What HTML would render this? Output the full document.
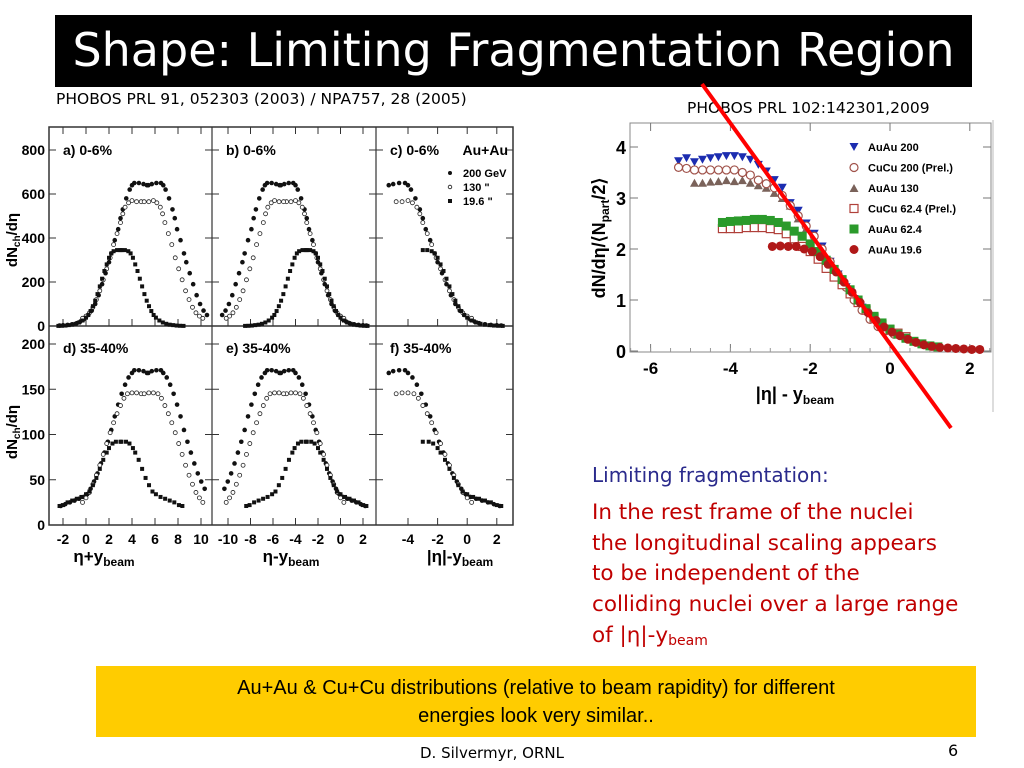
<!DOCTYPE html>
<html><head><meta charset="utf-8"><style>
body{margin:0;width:1024px;height:768px;background:#fff;position:relative;overflow:hidden;font-family:"DejaVu Sans","Liberation Sans",sans-serif}
.abs{position:absolute}
</style></head><body>
<div class="abs" style="left:55px;top:15px;width:917px;height:72px;background:#000;color:#fff;font-size:46px;line-height:70px;text-align:center;white-space:nowrap;">Shape: Limiting Fragmentation Region</div>
<div class="abs" style="left:56px;top:90px;font-size:15.5px;">PHOBOS PRL 91, 052303 (2003) / NPA757, 28 (2005)</div>
<div class="abs" style="left:687px;top:99px;font-size:15.5px;">PHOBOS PRL 102:142301,2009</div>
<svg class="abs" style="left:0;top:0" width="1024" height="768" id="figs"></svg>
<div class="abs" style="left:592px;top:463px;font-size:20px;color:#2a2a8c;">Limiting fragmentation:</div>
<div class="abs" style="left:592px;top:498px;font-size:21.5px;color:#c00000;line-height:30.7px;white-space:nowrap;">In the rest frame of the nuclei<br>the longitudinal scaling appears<br>to be independent of the<br>colliding nuclei over a large range<br>of |η|-y<sub style="font-size:14px;vertical-align:-3px">beam</sub></div>
<div class="abs" style="left:96px;top:666px;width:880px;height:71px;background:#ffcc00;font-family:'Liberation Sans',sans-serif;font-size:20px;text-align:center;line-height:28px;padding-top:8px;box-sizing:border-box;">Au+Au &amp; Cu+Cu distributions (relative to beam rapidity) for different<br>energies look very similar..</div>
<div class="abs" style="left:420px;top:744px;font-size:15px;">D. Silvermyr, ORNL</div>
<div class="abs" style="left:948px;top:741px;font-size:16px;">6</div>
<script>
// ---- Left figure data (vs |eta|-ybeam) ----
const ybeam = [5.36, 4.93, 3.04];
const cenU200 = [-5.3,-5,-4.6,-4.2,-4,-3.8,-3.5,-3.2,-3,-2.8,-2.5,-2.2,-2,-1.7,-1.4,-1.1,-0.8,-0.5,-0.2,0.2,0.5,0.8,1.2,1.6,2,2.3];
const cenV200 = [640,645,650,650,640,620,580,530,490,440,390,330,290,240,190,140,100,70,50,30,20,13,8,5,3,2];
const cenU130 = [-4.8,-4.4,-4,-3.7,-3.4,-3.2,-3,-2.7,-2.4,-2.1,-1.8,-1.5,-1.2,-0.9,-0.6,-0.3,0,0.3];
const cenV130 = [565,565,570,560,540,510,470,420,370,310,260,210,160,120,85,60,45,35];
const cenU19 = [-3,-2.7,-2.4,-2.2,-2,-1.8,-1.6,-1.4,-1.2,-1,-0.8,-0.6,-0.4,-0.2,0,0.3,0.6,0.9,1.2,1.5,1.8,2.1,2.4];
const cenV19 = [345,345,340,330,310,280,250,215,180,145,115,90,68,50,38,25,16,10,6,4,2,1,0.5];
const perU200 = [-5.3,-5,-4.6,-4.2,-4,-3.7,-3.4,-3.1,-2.8,-2.5,-2.2,-1.9,-1.6,-1.3,-1,-0.7,-0.4,-0.1,0.2,0.6,1,1.4,1.8,2.2];
const perV200 = [168,170,171,171,168,163,155,145,133,120,105,92,80,68,57,48,40,34,31,29,27,25,23,21];
const perU130 = [-4.8,-4.4,-4,-3.6,-3.3,-3,-2.7,-2.4,-2.1,-1.8,-1.5,-1.2,-0.9,-0.6,-0.3,0,0.3];
const perV130 = [145,146,146,145,140,132,123,113,102,90,78,66,55,45,36,30,25];
const perU19 = [-3,-2.6,-2.3,-2,-1.8,-1.5,-1.2,-0.9,-0.6,-0.3,0,0.4,0.8,1.2,1.6,2,2.3];
const perV19 = [92,92,90,85,80,72,62,52,44,37,34,31,29,27,25,22,21];
const topTicks = [0,200,400,600,800];
const botTicks = [0,50,100,150,200];
const xTicksA = [-2,0,2,4,6,8,10];
const xTicksB = [-10,-8,-6,-4,-2,0,2];
const xTicksC = [-4,-2,0,2];

// ---- Right figure data ----
const rX_au200=[-5.3,-5.1,-4.9,-4.7,-4.5,-4.3,-4.1,-3.9,-3.7,-3.5,-3.3,-3.1,-2.9,-2.7,-2.5,-2.3,-2.1,-1.9,-1.7,-1.5,-1.3,-1.1,-0.9,-0.7,-0.5,-0.3,-0.1];
const rY_au200=[3.72,3.78,3.7,3.75,3.78,3.8,3.82,3.82,3.8,3.75,3.65,3.52,3.35,3.2,2.9,2.75,2.5,2.3,2.05,1.75,1.5,1.25,1.02,0.85,0.65,0.5,0.42];
const rX_cu200=[-5.3,-5.1,-4.9,-4.7,-4.5,-4.3,-4.1,-3.9,-3.7,-3.5,-3.3,-3.1,-2.9,-2.7,-2.5,-2.3,-2.1,-1.9,-1.7,-1.5,-1.3,-1.1,-0.9,-0.7,-0.5,-0.3,-0.1,0.1];
const rY_cu200=[3.6,3.58,3.55,3.55,3.55,3.55,3.55,3.55,3.5,3.45,3.35,3.28,3.2,3.05,2.85,2.65,2.45,2.25,2.0,1.75,1.5,1.25,1.0,0.8,0.62,0.48,0.4,0.33];
const rX_au130=[-4.9,-4.7,-4.5,-4.3,-4.1,-3.9,-3.7,-3.5,-3.3,-3.1,-2.9,-2.7,-2.5,-2.3,-2.1,-1.9,-1.7];
const rY_au130=[3.3,3.3,3.32,3.33,3.35,3.33,3.35,3.3,3.25,3.2,3.1,3.0,2.85,2.6,2.4,2.2,2.0];
const rX_cu62=[-4.2,-4,-3.8,-3.6,-3.4,-3.2,-3,-2.8,-2.6,-2.4,-2.2,-2,-1.8,-1.6,-1.4,-1.2,-1,-0.8,-0.6,-0.4,-0.2,0,0.2,0.4];
const rY_cu62=[2.4,2.4,2.4,2.42,2.42,2.42,2.4,2.38,2.3,2.2,2.05,1.95,1.8,1.62,1.45,1.3,1.12,0.95,0.8,0.65,0.52,0.42,0.35,0.28];
const rX_au62=[-4.2,-4,-3.8,-3.6,-3.4,-3.2,-3,-2.8,-2.6,-2.4,-2.2,-2,-1.8,-1.6,-1.4,-1.2,-1,-0.8,-0.6,-0.4,-0.2,0,0.2,0.4,0.6,0.8,1,1.2];
const rY_au62=[2.52,2.54,2.55,2.56,2.58,2.58,2.56,2.52,2.45,2.35,2.25,2.1,1.95,1.78,1.6,1.4,1.2,1.0,0.83,0.68,0.55,0.43,0.33,0.25,0.19,0.14,0.1,0.08];
const rX_au19=[-2.95,-2.75,-2.55,-2.35,-2.15,-1.95,-1.75,-1.55,-1.35,-1.15,-0.95,-0.75,-0.55,-0.35,-0.15,0.05,0.25,0.45,0.65,0.85,1.05,1.25,1.45,1.65,1.85,2.05,2.25];
const rY_au19=[2.05,2.06,2.05,2.05,2.0,1.95,1.85,1.7,1.55,1.35,1.15,0.95,0.75,0.6,0.47,0.37,0.3,0.23,0.17,0.12,0.09,0.07,0.06,0.05,0.04,0.03,0.03];
const rTicksX=[-6,-4,-2,0,2];
const rTicksY=[0,1,2,3,4];
const legendNames=["AuAu 200","CuCu 200 (Prel.)","AuAu 130","CuCu 62.4 (Prel.)","AuAu 62.4","AuAu 19.6"];

const svg=document.getElementById('figs');
const NS='http://www.w3.org/2000/svg';
function mk(tag,attrs,parent){const e=document.createElementNS(NS,tag);for(const k in attrs)e.setAttribute(k,attrs[k]);(parent||svg).appendChild(e);return e;}
function txt(x,y,s,size,anchor,parent,weight){const t=mk('text',{x:x,y:y,'font-size':size,'text-anchor':anchor||'middle','font-family':'Liberation Sans, sans-serif','font-weight':weight||'bold'},parent);t.textContent=s;return t;}

// Left figure frame
const L=49,R=513,T=127,M=326,B=525,C1=212,C2=376;
const fr=mk('rect',{x:L,y:T,width:R-L,height:B-T,fill:'none',stroke:'#333','stroke-width':1.5});


mk('line',{x1:L,y1:M,x2:R,y2:M,stroke:'#333','stroke-width':1.5});
mk('line',{x1:C1,y1:T,x2:C1,y2:B,stroke:'#333','stroke-width':1.2});
mk('line',{x1:C2,y1:T,x2:C2,y2:B,stroke:'#333','stroke-width':1.2});
const yTop=v=>M-v*(176/800);
const yBot=v=>B-v*(181/200);
topTicks.forEach(v=>{const y=yTop(v);txt(L-4,y+5,v,14,'end');[L,C1,C2].forEach(x0=>mk('line',{x1:x0,y1:y,x2:x0+7,y2:y,stroke:'#333'}));[C1,C2,R].forEach(x0=>mk('line',{x1:x0-7,y1:y,x2:x0,y2:y,stroke:'#333'}));});
botTicks.forEach(v=>{const y=yBot(v);txt(L-4,y+5,v,14,'end');[L,C1,C2].forEach(x0=>mk('line',{x1:x0,y1:y,x2:x0+7,y2:y,stroke:'#333'}));[C1,C2,R].forEach(x0=>mk('line',{x1:x0-7,y1:y,x2:x0,y2:y,stroke:'#333'}));});
const xa=v=>63+(v+2)*11.5, xb=v=>228+(v+10)*11.25, xc=v=>408+(v+4)*14.8;
[[xTicksA,xa],[xTicksB,xb],[xTicksC,xc]].forEach(([ts,f])=>ts.forEach(v=>{const x=f(v);txt(x,B+19,v,14,'middle');mk('line',{x1:x,y1:B,x2:x,y2:B-7,stroke:'#333'});mk('line',{x1:x,y1:M,x2:x,y2:M-7,stroke:'#333'});mk('line',{x1:x,y1:T,x2:x,y2:T+7,stroke:'#333'});}));
[['a) 0-6%',63,155],['b) 0-6%',226,155],['c) 0-6%',390,155],['d) 35-40%',63,353],['e) 35-40%',226,353],['f) 35-40%',390,353]].forEach(p=>txt(p[1],p[2],p[0],14,'start'));
txt(508,155,'Au+Au',14,'end');
const lg=[['200 GeV',173],['130   "',187],['19.6  "',201]];
lg.forEach(l=>{txt(463,l[1]+4,l[0],11,'start');});
mk('circle',{cx:450,cy:173,r:2,fill:'#111'});mk('circle',{cx:450,cy:187,r:1.8,fill:'none',stroke:'#111','stroke-width':0.8});mk('rect',{x:448,y:199,width:4,height:4,fill:'#111'});
const xl1=txt(104,562,'η+y',17,'middle');const s1=mk('tspan',{'font-size':12,dy:4},xl1);s1.textContent='beam';
const xl2=txt(291,562,'η-y',17,'middle');const s2=mk('tspan',{'font-size':12,dy:4},xl2);s2.textContent='beam';
const xl3=txt(460,562,'|η|-y',17,'middle');const s3=mk('tspan',{'font-size':12,dy:4},xl3);s3.textContent='beam';
[[240],[432]].forEach(([cy])=>{const t=txt(0,0,'dN',15,'middle');t.setAttribute('transform',`translate(17,${cy}) rotate(-90)`);const sb=mk('tspan',{'font-size':10,dy:3},t);sb.textContent='ch';const r=mk('tspan',{dy:-3},t);r.textContent='/dη';});

function marker(x,y,type){
  if(type===0){const c=mk('circle',{cx:x,cy:y,r:2.3,fill:'#111'});}
  else if(type===1){const c=mk('circle',{cx:x,cy:y,r:2,fill:'#fff',stroke:'#222','stroke-width':0.8});}
  else {const c=mk('rect',{x:x-2,y:y-2,width:4,height:4,fill:'#111'});}
}
const topSets=[[cenU200,cenV200],[cenU130,cenV130],[cenU19,cenV19]];
const botSets=[[perU200,perV200],[perU130,perV130],[perU19,perV19]];
[[topSets,yTop],[botSets,yBot]].forEach(([sets,yf])=>{
  sets.forEach(([us,vs],k)=>{const yb=ybeam[k];
    us.forEach((u,i)=>{const y=yf(vs[i]);
      const a1=-u, a2=2*yb+u;
      if(a1>-2.6&&a1<10.8) marker(xa(a1),y,k);
      if(a2<10.6&&a2>-2.6) marker(xa(a2),y,k);
      const b1=u, b2=-2*yb-u;
      if(b1>-10.6&&b1<2.6) marker(xb(b1),y,k);
      if(b2>-10.6&&b2<2.6) marker(xb(b2),y,k);
      if(u>-5.4&&u<2.5) marker(xc(u),y,k);
    });});
});

// Right figure
const g=mk('g',{});


const RL=630,RR=991,RT=123,RB=352;
const rx=v=>890+v*39.9, ry=v=>351-v*51;
mk('rect',{x:RL,y:RT,width:RR-RL,height:RB-RT,fill:'none',stroke:'#888','stroke-width':1},g);
rTicksX.forEach(v=>{const x=rx(v);txt(x,RB+22,v,17,'middle',g);mk('line',{x1:x,y1:RB,x2:x,y2:RB-8,stroke:'#777'},g);mk('line',{x1:x,y1:RT,x2:x,y2:RT+8,stroke:'#777'},g);});
for(let v=-6.5;v<=2.5;v+=0.5){const x=rx(v);mk('line',{x1:x,y1:RB,x2:x,y2:RB-4,stroke:'#999'},g);}
rTicksY.forEach(v=>{const y=ry(v);txt(RL-4,y+7,v,18,'end',g);mk('line',{x1:RL,y1:y,x2:RL+8,y2:y,stroke:'#777'},g);mk('line',{x1:RR-8,y1:y,x2:RR,y2:y,stroke:'#777'},g);});
const rxl=txt(795,400,'|η| - y',18,'middle',g);const rs=mk('tspan',{'font-size':12,dy:4},rxl);rs.textContent='beam';
const ryl=txt(0,0,'dN/dη/⟨N',18,'middle',g);ryl.setAttribute('transform','translate(605,238) rotate(-90)');const ys=mk('tspan',{'font-size':12,dy:4},ryl);ys.textContent='part';const ys2=mk('tspan',{dy:-4},ryl);ys2.textContent='/2⟩';
function rmark(x,y,t){
  let e;
  if(t===0)e=mk('path',{d:`M${x-4.5},${y-4}L${x+4.5},${y-4}L${x},${y+4}Z`,fill:'#1c2db0'},g);
  else if(t===1)e=mk('circle',{cx:x,cy:y,r:4,fill:'#fff',stroke:'#a0524a','stroke-width':1.2},g);
  else if(t===2)e=mk('path',{d:`M${x-4.5},${y+4}L${x+4.5},${y+4}L${x},${y-4}Z`,fill:'#7a625a'},g);
  else if(t===3)e=mk('rect',{x:x-4,y:y-4,width:8,height:8,fill:'#fff',stroke:'#b0403a','stroke-width':1.2},g);
  else if(t===4)e=mk('rect',{x:x-4.5,y:y-4.5,width:9,height:9,fill:'#2b9a2b'},g);
  else e=mk('circle',{cx:x,cy:y,r:4.5,fill:'#b01818'},g);
  return e;
}
const rSets=[[rX_au200,rY_au200],[rX_cu200,rY_cu200],[rX_au130,rY_au130],[rX_cu62,rY_cu62],[rX_au62,rY_au62],[rX_au19,rY_au19]];
[2,0,1,3,4,5].forEach(k=>{const [xs,ys]=rSets[k];xs.forEach((x,i)=>{const e=rmark(rx(x),ry(ys[i]),k);});});
legendNames.forEach((n,i)=>{const y=147+i*20.5;const e=rmark(854,y,i);const t=txt(868,y+4,n,11,'start',g);});
mk('line',{x1:993,y1:120,x2:993,y2:412,stroke:'#bbb','stroke-width':1});
const rl=mk('line',{x1:702,y1:84,x2:951,y2:428,stroke:'#f00','stroke-width':4});


</script>
</body></html>
